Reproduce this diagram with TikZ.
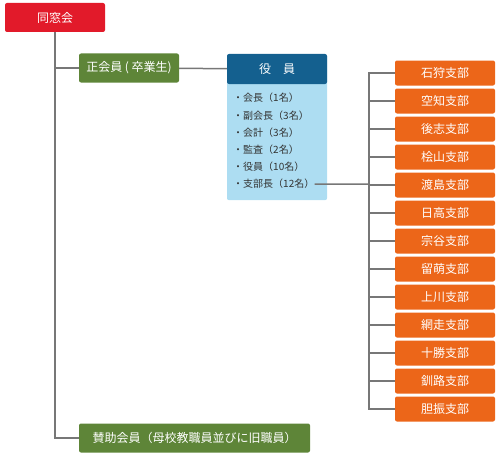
\documentclass[tikz,border=0pt]{standalone}
\usepackage{fontspec}
\setmainfont{Noto Sans CJK JP}
\definecolor{kaired}{RGB}{226,26,42}
\definecolor{kaigreen}{RGB}{94,133,56}
\definecolor{kaiblue}{RGB}{20,96,143}
\definecolor{kaisky}{RGB}{173,221,242}
\definecolor{kaiorange}{RGB}{236,102,25}
\definecolor{kaigray}{RGB}{119,119,119}
\newcommand{\bsize}{\fontsize{12}{14}\selectfont}
\newcommand{\lsize}{\fontsize{10}{12}\selectfont}

\begin{document}
\begin{tikzpicture}[x = 1pt, y = -1pt,
  box/.style = {text = white, rounded corners = 2pt, minimum height = 29pt, inner sep = 0pt, font = \bsize},
  branch/.style = {box, fill = kaiorange, minimum width = 100pt, minimum height = 25pt},
  item/.style = {anchor = west, inner sep = 0pt, text = black!80, font = \lsize},
  link/.style = {draw = kaigray, line width = 1.5pt}]
\useasboundingbox (0,0) rectangle (500,460);

\node[box, fill = kaired, minimum width = 100pt] (v1) at (55,17.5) {同窓会};
\node[box, fill = kaigreen, minimum width = 100pt] (v2) at (129,68) {正会員 ( 卒業生)};
\node[box, fill = kaigreen, minimum width = 231pt] (v3) at (194.5,438) {賛助会員（母校教職員並びに旧職員）};

\node[fill = kaisky, rounded corners = 2pt, minimum width = 100pt, minimum height = 146pt, inner sep = 0pt, anchor = north] (v4) at (277,54) {};
\node[box, fill = kaiblue, minimum width = 100pt, minimum height = 30pt] (v5) at (277,69) {役　員};

\foreach \t [count = \i] in {会長（1名）, 副会長（3名）, 会計（3名）, 監査（2名）, 役員（10名）, 支部長（12名）}
  \node[item] (i\i) at (233,{98+(\i-1)*17.2}) {・\t};

\draw [link] (v1) |- (v2);
\draw [link] (v1) |- (v3);
\draw [link] (v2) -- (v5);

\coordinate (c1) at (369,184);
\draw [link] (i6) -- (c1);

\foreach \n [count = \i] in {石狩, 空知, 後志, 桧山, 渡島, 日高, 宗谷, 留萌, 上川, 網走, 十勝, 釧路, 胆振} {
  \node[branch] (s\i) at (445,{73+(\i-1)*28}) {\n 支部};
  \draw [link] (c1) |- (s\i);
}
\end{tikzpicture}
\end{document}
